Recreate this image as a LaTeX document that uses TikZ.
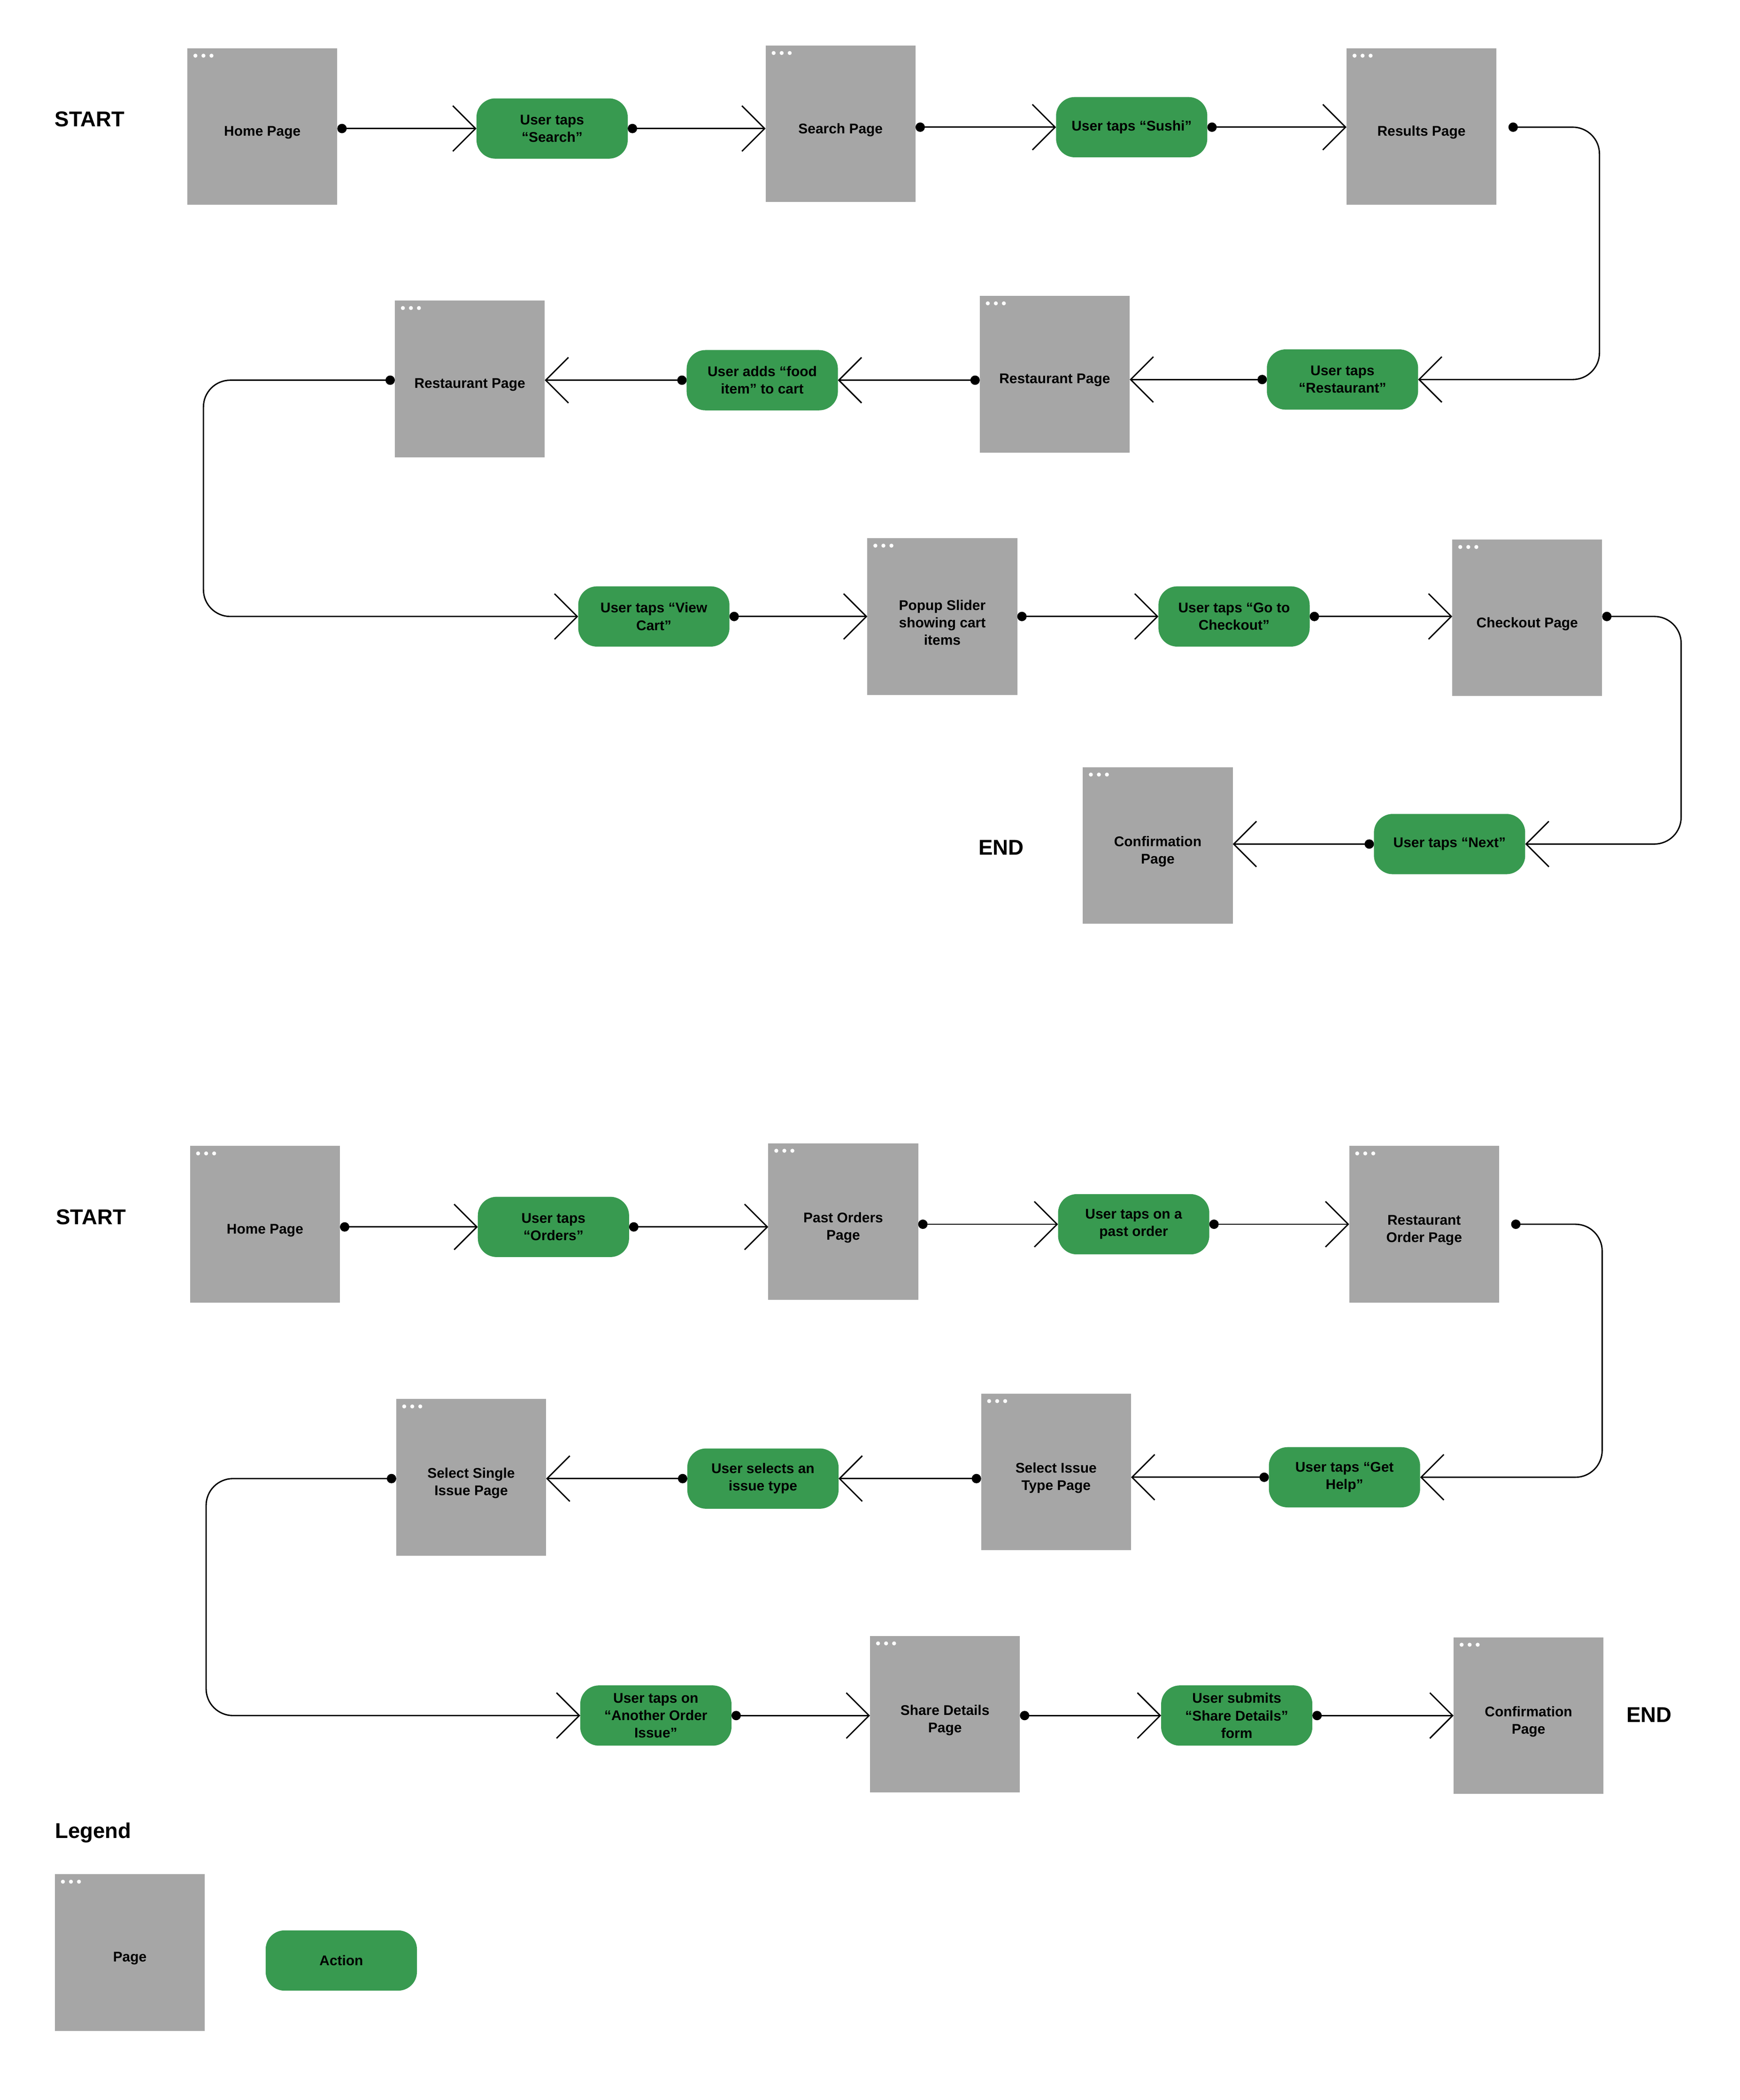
\documentclass[tikz,border=0pt]{standalone}
\usepackage{fontspec}
\setmainfont{Liberation Sans}
\usetikzlibrary{arrows.meta,calc}
\definecolor{pagegray}{HTML}{A6A6A6}
\definecolor{actgreen}{HTML}{389A50}
\newcommand\mkpage[4]{\node[page] (#1) at (#2,#3) {}; \node[ptext] (#1-t) at (#1) {#4};}
\begin{document}
\begin{tikzpicture}[x=1pt,y=-1pt,
  page/.style={fill=pagegray, minimum width=112pt, minimum height=117pt, inner sep=0pt, outer sep=0pt,
    path picture={\fill[white] ([xshift=6pt,yshift=-5.6pt]path picture bounding box.north west) circle (1.5pt) ++(6pt,0pt) circle (1.5pt) ++(6pt,0pt) circle (1.5pt);}},
  ptext/.style={font=\bfseries\fontsize{10.5}{13}\selectfont, align=center, yshift=-4.5pt, inner sep=0pt},
  action/.style={fill=actgreen, rounded corners=14pt, minimum width=113pt, minimum height=45pt, inner sep=0pt, outer sep=0pt, align=center, font=\bfseries\fontsize{10.5}{13}\selectfont},
  big/.style={font=\bfseries\fontsize{16}{19}\selectfont, inner sep=0pt},
  conn/.style={line width=1pt, {Circle[length=7pt]}-{Straight Barb[length=17pt,width=34pt]}},
  elbow/.style={conn, rounded corners=20pt},
]
\useasboundingbox (0,0) rectangle (1300,1568.7);

% ---------- Diagram 1 ----------
\node[big] (start1) at (67,89) {START};
\mkpage{hp1}{196}{94.5}{Home Page}
\node[action] (a1) at (412.5,96) {User taps\\“Search”};
\mkpage{sp1}{628}{92.5}{Search Page}
\node[action] (a2) at (845.5,95) {User taps “Sushi”};
\mkpage{rp1}{1062}{94.5}{Results Page}

\node[action] (a3) at (1003,283.5) {User taps\\“Restaurant”};
\mkpage{rp2}{788}{279.5}{Restaurant Page}
\node[action] (a4) at (569.5,284) {User adds “food\\item” to cart};
\mkpage{rp3}{351}{283}{Restaurant Page}

\node[action] (a5) at (488.5,460.5) {User taps “View\\Cart”};
\mkpage{ps}{704}{460.5}{Popup Slider\\showing cart\\items}
\node[action] (a6) at (922,460.5) {User taps “Go to\\Checkout”};
\mkpage{cp}{1141}{461.5}{Checkout Page}

\node[action] (a7) at (1083,630.5) {User taps “Next”};
\mkpage{cf1}{865}{631.5}{Confirmation\\Page}
\node[big] (end1) at (748,633) {END};

\draw[conn] (hp1.east |- a1) -- (a1.west);
\draw[conn] (a1.east) -- (a1 -| sp1.west);
\draw[conn] (sp1.east |- a2) -- (a2.west);
\draw[conn] (a2.east) -- (a2 -| rp1.west);
\draw[elbow] ($(rp1.east |- a2)+(9,0)$) -| (1195,190) |- (a3.east);
\draw[conn] (a3.west) -- (a3 -| rp2.east);
\draw[conn] (rp2.west |- a4) -- (a4.east);
\draw[conn] (a4.west) -- (a4 -| rp3.east);
\draw[elbow] (rp3.west |- a4) -| (152,370) |- (a5.west);
\draw[conn] (a5.east) -- (a5 -| ps.west);
\draw[conn] (ps.east |- a6) -- (a6.west);
\draw[conn] (a6.east) -- (a6 -| cp.west);
\draw[elbow] (cp.east |- a6) -| (1256,545) |- (a7.east);
\draw[conn] (a7.west) -- (a7 -| cf1.east);

% ---------- Diagram 2 ----------
\node[big] (start2) at (68,909) {START};
\mkpage{hp2}{198}{914.5}{Home Page}
\node[action] (b1) at (413.5,916.5) {User taps\\“Orders”};
\mkpage{po}{630}{912.5}{Past Orders\\Page}
\node[action] (b2) at (847,914.5) {User taps on a\\past order};
\mkpage{ro}{1064}{914.5}{Restaurant\\Order Page}

\node[action] (b3) at (1004.5,1103.5) {User taps “Get\\Help”};
\mkpage{sit}{789}{1099.5}{Select Issue\\Type Page}
\node[action] (b4) at (570,1104.5) {User selects an\\issue type};
\mkpage{ssi}{352}{1103.5}{Select Single\\Issue Page}

\node[action] (b5) at (490,1281.5) {User taps on\\“Another Order\\Issue”};
\mkpage{sd}{706}{1280.5}{Share Details\\Page}
\node[action] (b6) at (924,1281.5) {User submits\\“Share Details”\\form};
\mkpage{cf2}{1142}{1281.5}{Confirmation\\Page}
\node[big] (end2) at (1232,1281) {END};

\draw[conn] (hp2.east |- b1) -- (b1.west);
\draw[conn] (b1.east) -- (b1 -| po.west);
\draw[conn] (po.east |- b2) -- (b2.west);
\draw[conn] (b2.east) -- (b2 -| ro.west);
\draw[elbow] ($(ro.east |- b2)+(9,0)$) -| (1197,1010) |- (b3.east);
\draw[conn] (b3.west) -- (b3 -| sit.east);
\draw[conn] (sit.west |- b4) -- (b4.east);
\draw[conn] (b4.west) -- (b4 -| ssi.east);
\draw[elbow] (ssi.west |- b4) -| (154,1190) |- (b5.west);
\draw[conn] (b5.east) -- (b5 -| sd.west);
\draw[conn] (sd.east |- b6) -- (b6.west);
\draw[conn] (b6.east) -- (b6 -| cf2.west);

% ---------- Legend ----------
\node[big, anchor=west] (legend) at (41,1369) {Legend};
\mkpage{lgpage}{97}{1458.5}{Page}
\node[action] (lgaction) at (255,1464.5) {Action};
\end{tikzpicture}
\end{document}
